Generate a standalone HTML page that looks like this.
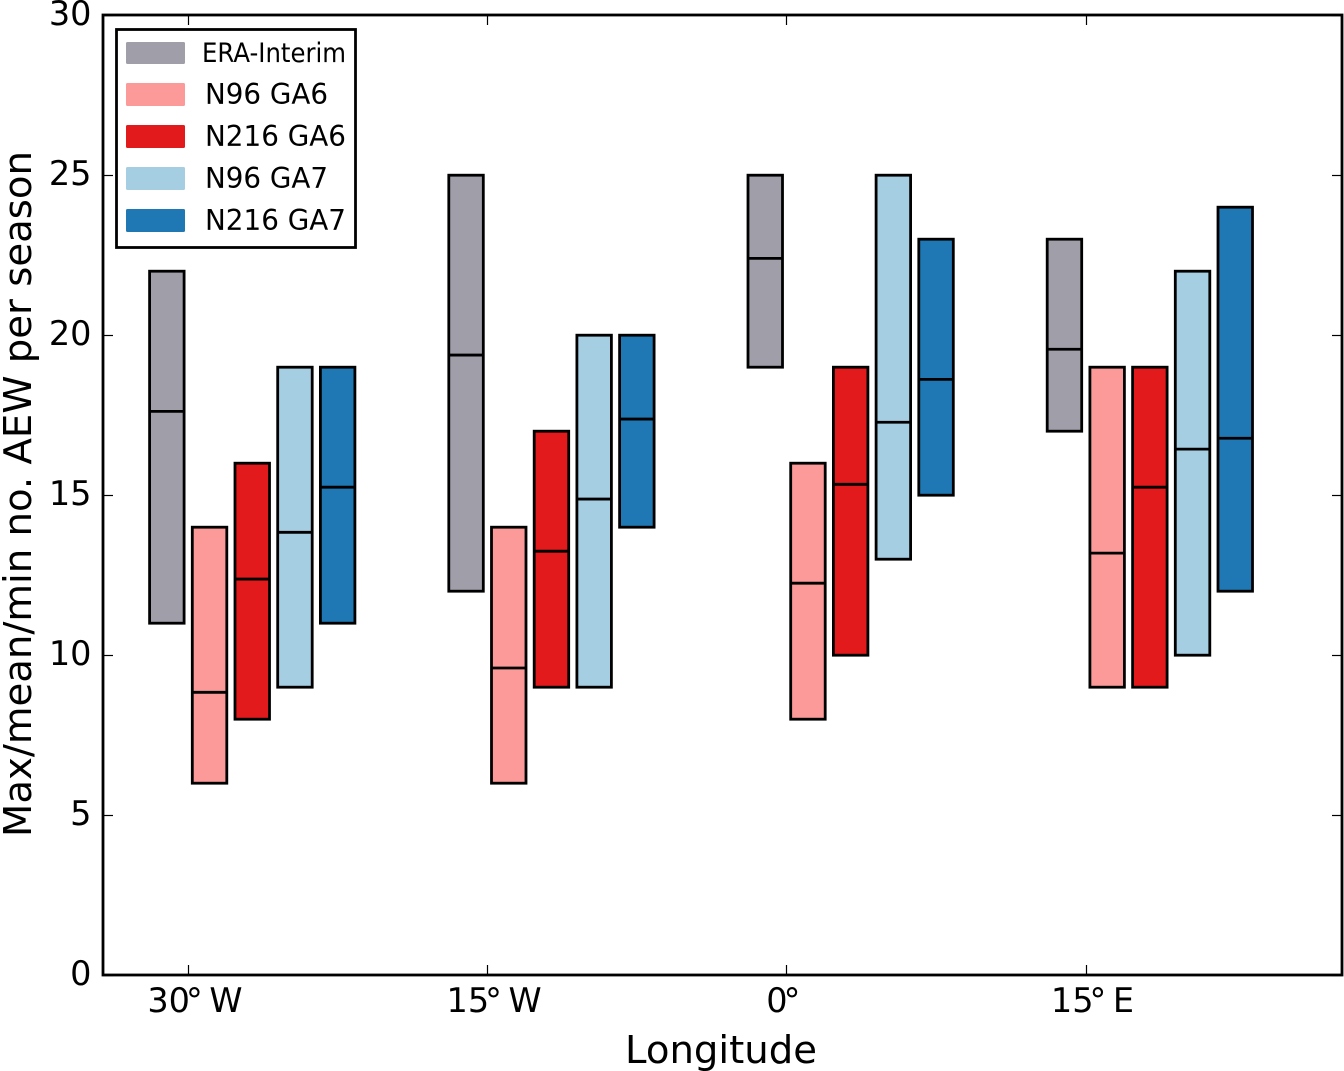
<!DOCTYPE html>
<html lang="en">
<head>
<meta charset="utf-8">
<title>AEW per season by longitude</title>
<style>
html,body{margin:0;padding:0;background:#fff;width:1344px;height:1071px;overflow:hidden}
svg{display:block}
text{font-family:"DejaVu Sans","Liberation Sans",sans-serif;fill:#000}
</style>
</head>
<body>
<svg id="chart" xmlns="http://www.w3.org/2000/svg" width="1344" height="1071" viewBox="0 0 1344 1071">
  <rect x="0" y="0" width="1344" height="1071" fill="#fff"/>
  <g id="bars"></g>
  <g id="ticks"></g>
  <rect x="103" y="15" width="1239" height="960" fill="none" stroke="#000" stroke-width="2.8"/>
  <g>
    <rect x="116.5" y="29.5" width="239" height="218" fill="#fff" stroke="#000" stroke-width="2.8"/>
    <g>
      <rect x="126" y="42" width="59" height="22" rx="1.5" fill="#a09ea9"/>
      <text x="202" y="62" font-size="27" textLength="144" lengthAdjust="spacingAndGlyphs">ERA-Interim</text>
    </g>
    <g>
      <rect x="126" y="83" width="59" height="23" rx="1.5" fill="#fb9a99"/>
      <text x="205" y="104" font-size="28.5" textLength="123" lengthAdjust="spacingAndGlyphs">N96 GA6</text>
    </g>
    <g>
      <rect x="126" y="125" width="59" height="23" rx="1.5" fill="#e31a1c"/>
      <text x="205" y="146" font-size="28.5" textLength="141" lengthAdjust="spacingAndGlyphs">N216 GA6</text>
    </g>
    <g>
      <rect x="126" y="167" width="59" height="23" rx="1.5" fill="#a6cee3"/>
      <text x="205" y="188" font-size="28.5" textLength="123" lengthAdjust="spacingAndGlyphs">N96 GA7</text>
    </g>
    <g>
      <rect x="126" y="209" width="59" height="23" rx="1.5" fill="#1f78b4"/>
      <text x="205" y="230" font-size="28.5" textLength="141" lengthAdjust="spacingAndGlyphs">N216 GA7</text>
    </g>
  </g>
  <text x="721" y="1063" font-size="38" text-anchor="middle" textLength="192" lengthAdjust="spacingAndGlyphs">Longitude</text>
  <text transform="translate(31 494) rotate(-90)" font-size="38" text-anchor="middle" textLength="686" lengthAdjust="spacingAndGlyphs">Max/mean/min no. AEW per season</text>
</svg>
<script>
var longitudes = [-30, -15, 0, 15];
var longitudeLabels = ['30° W', '15° W', '0°', '15° E'];
var yTicks = [0, 5, 10, 15, 20, 25, 30];
var seriesNames = ['era-interim', 'n96-ga6', 'n216-ga6', 'n96-ga7', 'n216-ga7'];
var seriesColors = ['#a09ea9', '#fb9a99', '#e31a1c', '#a6cee3', '#1f78b4'];
var eraMin = [11, 12, 19, 17];
var eraMean = [17.62, 19.38, 22.4, 19.56];
var eraMax = [22, 25, 25, 23];
var n96Ga6Min = [6, 6, 8, 9];
var n96Ga6Mean = [8.84, 9.6, 12.25, 13.19];
var n96Ga6Max = [14, 14, 16, 19];
var n216Ga6Min = [8, 9, 10, 9];
var n216Ga6Mean = [12.38, 13.25, 15.34, 15.25];
var n216Ga6Max = [16, 17, 19, 19];
var n96Ga7Min = [9, 9, 13, 10];
var n96Ga7Mean = [13.84, 14.88, 17.28, 16.44];
var n96Ga7Max = [19, 20, 25, 22];
var n216Ga7Min = [11, 14, 15, 12];
var n216Ga7Mean = [15.25, 17.38, 18.62, 16.78];
var n216Ga7Max = [19, 20, 23, 24];

var seriesMin = [eraMin, n96Ga6Min, n216Ga6Min, n96Ga7Min, n216Ga7Min];
var seriesMean = [eraMean, n96Ga6Mean, n216Ga6Mean, n96Ga7Mean, n216Ga7Mean];
var seriesMax = [eraMax, n96Ga6Max, n216Ga6Max, n96Ga7Max, n216Ga7Max];

var NS = 'http://www.w3.org/2000/svg';
function xScale(lon) { return 786.3 + lon * (299.2 / 15); }
function yScale(v) { return 975.2 - v * 32; }
function make(tag, parent, attrs) {
  var el = document.createElementNS(NS, tag);
  for (var k in attrs) { el.setAttribute(k, attrs[k]); }
  parent.appendChild(el);
  return el;
}

var barLayer = document.getElementById('bars');
var barStep = 42.7, barWidth = 34.5, barStart = -38.3;
longitudes.forEach(function (lon, g) {
  seriesNames.forEach(function (name, s) {
    var left = xScale(lon) + barStart + s * barStep;
    var top = yScale(seriesMax[s][g]);
    var bottom = yScale(seriesMin[s][g]);
    var bar = make('rect', barLayer, {
      x: left, y: top, width: barWidth, height: bottom - top,
      fill: seriesColors[s], stroke: '#000', 'stroke-width': 2.8
    });
    
    
    var meanY = yScale(seriesMean[s][g]);
    var mean = make('line', barLayer, {
      x1: left, x2: left + barWidth, y1: meanY, y2: meanY,
      stroke: '#000', 'stroke-width': 2.8
    });
    
    
  });
});

var tickLayer = document.getElementById('ticks');
longitudes.forEach(function (lon, i) {
  var x = Math.round(xScale(lon)) + 0.5;
  [[975, 965], [15, 25]].forEach(function (p) {
    var t = make('line', tickLayer, { x1: x, x2: x, y1: p[0], y2: p[1], stroke: '#000', 'stroke-width': 1.2 });
    
    
  });
  var label = make('text', tickLayer, { x: xScale(lon) + (i === 2 ? -3 : 7), y: 1012, 'font-size': 33.5, 'text-anchor': 'middle', 'word-spacing': -4 });
  
  
  var parts = longitudeLabels[i].split('°');
  var digits = make('tspan', label, {});
  digits.textContent = parts[0];
  var rest = make('tspan', label, { dx: -4 });
  rest.textContent = '°' + parts[1];
});
yTicks.forEach(function (v) {
  var y = Math.round(yScale(v)) + 0.5;
  [[103, 113], [1342, 1332]].forEach(function (p) {
    var t = make('line', tickLayer, { x1: p[0], x2: p[1], y1: y, y2: y, stroke: '#000', 'stroke-width': 1.2 });
    
    
  });
  var label = make('text', tickLayer, { x: 91.5, y: yScale(v) + 10, 'font-size': 33.5, 'text-anchor': 'end' });
  
  
  label.textContent = String(v);
});
</script>
</body>
</html>
